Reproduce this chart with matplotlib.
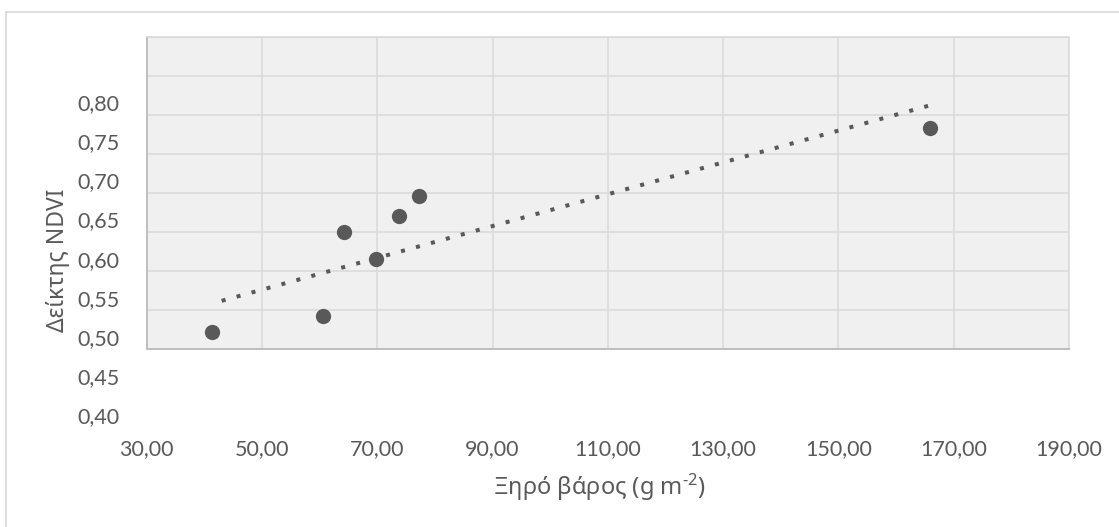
import matplotlib
matplotlib.use("Agg")
import matplotlib.pyplot as plt
from matplotlib.lines import Line2D
from matplotlib.ticker import FuncFormatter

plt.rcParams['font.family'] = ['Lato', 'Noto Sans', 'DejaVu Sans']
plt.rcParams['mathtext.fontset'] = 'custom'
plt.rcParams['mathtext.rm'] = 'Noto Sans'
plt.rcParams['mathtext.default'] = 'regular'

# Dry weight (g m-2) and NDVI for each sampling plot
dry_weight = [41.3, 60.5, 64.3, 69.7, 73.8, 77.2, 165.9]
ndvi = [0.506, 0.527, 0.634, 0.600, 0.654, 0.680, 0.767]

# Linear trend line end points
trend_x = [43.0, 165.9]
trend_y = [0.546, 0.796]

x_ticks = [30, 50, 70, 90, 110, 130, 150, 170, 190]
y_ticks = [0.40, 0.45, 0.50, 0.55, 0.60, 0.65, 0.70, 0.75, 0.80]

W, H = 1119, 527
fig = plt.figure(figsize=(W / 100, H / 100), dpi=100)

TEXT = '#595959'
GRID = '#D9D9D9'
MARK = '#595959'

# outer chart frame
fig.add_artist(Line2D([6 / W, 6 / W], [0, 1 - 12 / H], transform=fig.transFigure,
                      color=GRID, lw=1.2))
fig.add_artist(Line2D([6 / W, 1], [1 - 12 / H, 1 - 12 / H], transform=fig.transFigure,
                      color=GRID, lw=1.2))

# shaded plot area with its grid
left, right = 146.7, 1069.0
top, bottom = 36.7, 349.3
ax_grid = fig.add_axes([left / W, 1 - bottom / H, (right - left) / W, (bottom - top) / H])
ax_grid.set_facecolor('#F0F0F0')
ax_grid.set_xlim(30, 190)
ax_grid.set_ylim(0.484, 0.884)
ax_grid.set_xticks(x_ticks)
ax_grid.set_yticks([0.484 + 0.05 * k for k in range(9)])
ax_grid.grid(True, color=GRID, lw=1.1)
ax_grid.tick_params(length=0, labelbottom=False, labelleft=False)
for side in ('top', 'right'):
    ax_grid.spines[side].set_color(GRID)
    ax_grid.spines[side].set_linewidth(1.1)
for side in ('left', 'bottom'):
    ax_grid.spines[side].set_color('#BFBFBF')
    ax_grid.spines[side].set_linewidth(1.4)

# value axes carrying the tick labels and the data
lab_top, lab_bottom = 102.2, 415.0
ax = fig.add_axes([left / W, 1 - lab_bottom / H, (right - left) / W, (lab_bottom - lab_top) / H])
ax.patch.set_alpha(0)
for s in ax.spines.values():
    s.set_visible(False)
ax.set_xlim(30, 190)
ax.set_ylim(0.40, 0.80)
ax.set_xticks(x_ticks)
ax.set_yticks(y_ticks)
ax.xaxis.set_major_formatter(FuncFormatter(lambda v, p: f"{v:.2f}".replace('.', ',')))
ax.yaxis.set_major_formatter(FuncFormatter(lambda v, p: f"{v:.2f}".replace('.', ',')))
ax.tick_params(axis='x', length=0, pad=17, labelsize=15.5, labelcolor=TEXT)
ax.tick_params(axis='y', length=0, pad=19.5, labelsize=15.5, labelcolor=TEXT)

ax.plot(trend_x, trend_y, color=MARK, lw=2.9, linestyle=(0, (1, 2.85)),
        dash_capstyle='butt', clip_on=False, zorder=3)
ax.plot(dry_weight, ndvi, linestyle='none', marker='o', markersize=11,
        color=MARK, markeredgewidth=0, clip_on=False, zorder=4)

fig.text(599 / W, 1 - 487 / H, r'Ξηρό βάρος (g m$^{\text{-}2}$)', ha='center', va='center',
         fontsize=17, color=TEXT, family=['Noto Sans'])
fig.text(58 / W, 1 - 260 / H, 'Δείκτης NDVI', ha='center', va='center', rotation=90,
         fontsize=16.5, color=TEXT, family=['Noto Sans'])

fig.savefig('out.png', dpi=100)
